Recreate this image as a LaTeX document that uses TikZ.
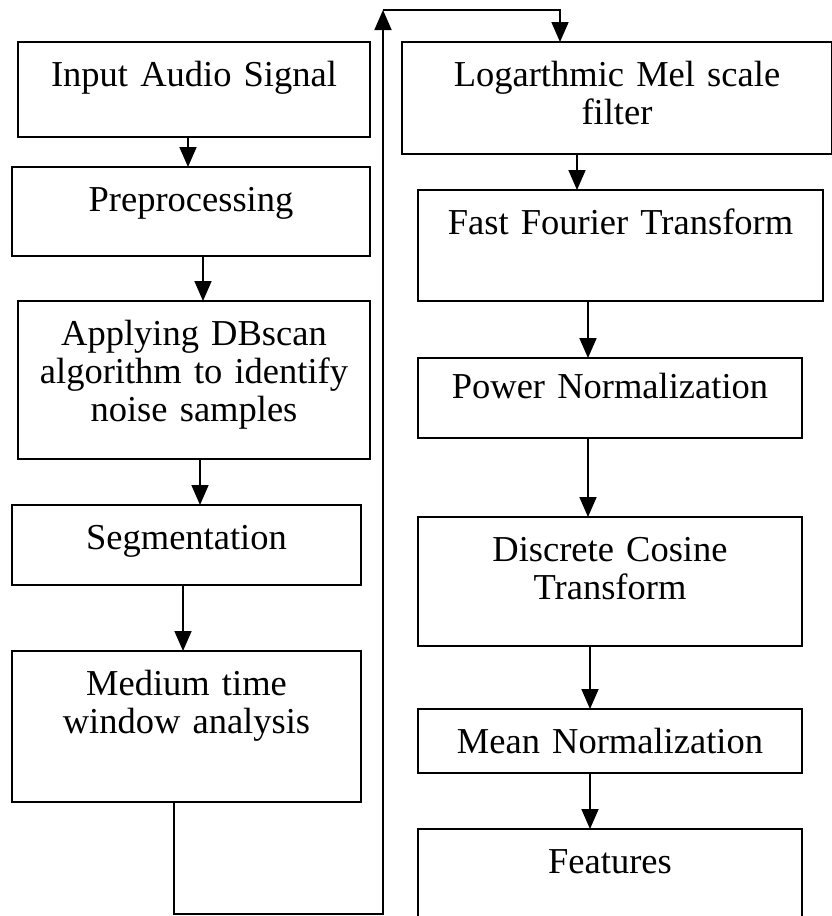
\documentclass[tikz,border=0pt]{standalone}
\usepackage{fontspec}
\setmainfont{Liberation Serif}
\usetikzlibrary{arrows.meta,positioning}
\tikzset{stepbox/.style={draw,line width=1.5pt,align=center,inner xsep=0pt,inner ysep=0pt,outer sep=0pt,text height=44pt,font=\fontsize{36.5}{38}\selectfont},arr/.style={-{Triangle[length=20pt,width=17pt]},line width=1.7pt}}

\begin{document}
\begin{tikzpicture}[x=1pt,y=-1pt]
\useasboundingbox (0,0) rectangle (831,916);
% left column
\node[stepbox,text width=352pt,text depth=51pt,anchor=north west] (input) at (18,42) {Input Audio Signal};
\node[stepbox,text width=358pt,text depth=45pt,below=30pt of input,xshift=-3pt] (prep) {Preprocessing};
\node[stepbox,text width=352pt,text depth=114pt,below=45pt of prep,xshift=3pt] (dbscan) {Applying DBscan\\algorithm to identify\\noise samples};
\node[stepbox,text width=349pt,text depth=36pt,below=46pt of dbscan,xshift=-7.5pt] (seg) {Segmentation};
\node[stepbox,text width=349pt,text depth=107pt,below=66pt of seg] (window) {Medium time\\window analysis};
% right column
\node[stepbox,text width=430pt,text depth=68pt,right=32pt of input.north east,anchor=north west] (mel) {Logarthmic Mel scale\\filter};
\node[stepbox,text width=405pt,text depth=67pt,below=36pt of mel,xshift=3.5pt] (fft) {Fast Fourier Transform};
\node[stepbox,text width=384pt,text depth=40pt,text height=40pt,below=57pt of fft,xshift=-10.5pt] (power) {Power Normalization};
\node[stepbox,text width=384pt,text depth=85pt,below=79pt of power] (dct) {Discrete Cosine\\Transform};
\node[stepbox,text width=384pt,text depth=20pt,below=63pt of dct] (mean) {Mean Normalization};
\node[stepbox,text width=384pt,text depth=66pt,below=56pt of mean] (feat) {Features};
% links
\draw[arr] (188,0 |- input.south)--(188,0 |- prep.north); \draw[arr] (203,0 |- prep.south)--(203,0 |- dbscan.north);
\draw[arr] (200,0 |- dbscan.south)--(200,0 |- seg.north); \draw[arr] (183,0 |- seg.south)--(183,0 |- window.north);
\coordinate (low) at (383,914); \coordinate (high) at (383,10); \coordinate (drop) at (560,10);
\draw[arr] (174,0 |- window.south) |- (low) -- (high);
\draw[arr] (high) -- (drop) -- (drop |- mel.north);
\draw[arr] (577,0 |- mel.south)--(577,0 |- fft.north); \draw[arr] (588,0 |- fft.south)--(588,0 |- power.north);
\draw[arr] (588,0 |- power.south)--(588,0 |- dct.north); \draw[arr] (590,0 |- dct.south)--(590,0 |- mean.north);
\draw[arr] (590,0 |- mean.south)--(590,0 |- feat.north);
\end{tikzpicture}
\end{document}
